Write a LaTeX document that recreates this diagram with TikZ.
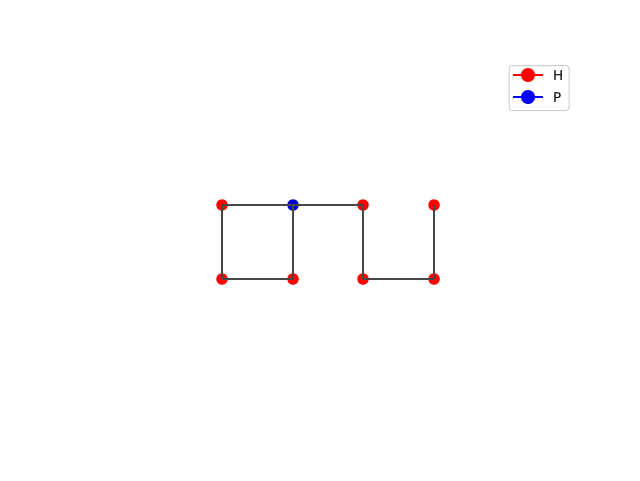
\documentclass[tikz,border=0pt]{standalone}
\usepackage{fontspec}
\setmainfont{DejaVu Sans}
\begin{document}
\begin{tikzpicture}[x=1pt,y=-1pt,
  hnode/.style={circle,fill=red,inner sep=0pt,minimum size=11.5pt},
  pnode/.style={circle,fill=blue!85!black,inner sep=0pt,minimum size=11.5pt},
  edge/.style={draw=black!72,line width=2.6pt},
  legline/.style={line width=2pt},
  legtext/.style={font=\fontsize{13.5}{15}\selectfont,anchor=west,inner sep=0pt}]
\useasboundingbox (0,0) rectangle (640,480);
% nodes
\node[hnode] (n1) at (222,205) {};
\node[pnode] (n2) at (293,205) {};
\node[hnode] (n3) at (363,205) {};
\node[hnode] (n4) at (434,205) {};
\node[hnode] (n5) at (222,279) {};
\node[hnode] (n6) at (293,279) {};
\node[hnode] (n7) at (363,279) {};
\node[hnode] (n8) at (434,279) {};
% edges
\draw[edge] (n1.center) -- (n2.center);
\draw[edge] (n2.center) -- (n3.center);
\draw[edge] (n1.center) -- (n5.center);
\draw[edge] (n5.center) -- (n6.center);
\draw[edge] (n6.center) -- (n2.center);
\draw[edge] (n3.center) -- (n7.center);
\draw[edge] (n7.center) -- (n8.center);
\draw[edge] (n8.center) -- (n4.center);
% legend
\node[draw=black!20,line width=1pt,rounded corners=3pt,minimum width=60pt,minimum height=45pt,fill=white] (leg) at (539,88) {};
\coordinate (h0) at (513,75);
\coordinate (h1) at (543,75);
\coordinate (p0) at (513,97);
\coordinate (p1) at (543,97);
\draw[legline,red] (h0) -- (h1);
\draw[legline,blue] (p0) -- (p1);
\node[circle,fill=red,inner sep=0pt,minimum size=14pt] (hm) at (528,75) {};
\node[circle,fill=blue,inner sep=0pt,minimum size=14pt] (pm) at (528,97) {};
\node[legtext] (ht) at (553,75.5) {H};
\node[legtext] (pt) at (553,97.5) {P};
\end{tikzpicture}
\end{document}
